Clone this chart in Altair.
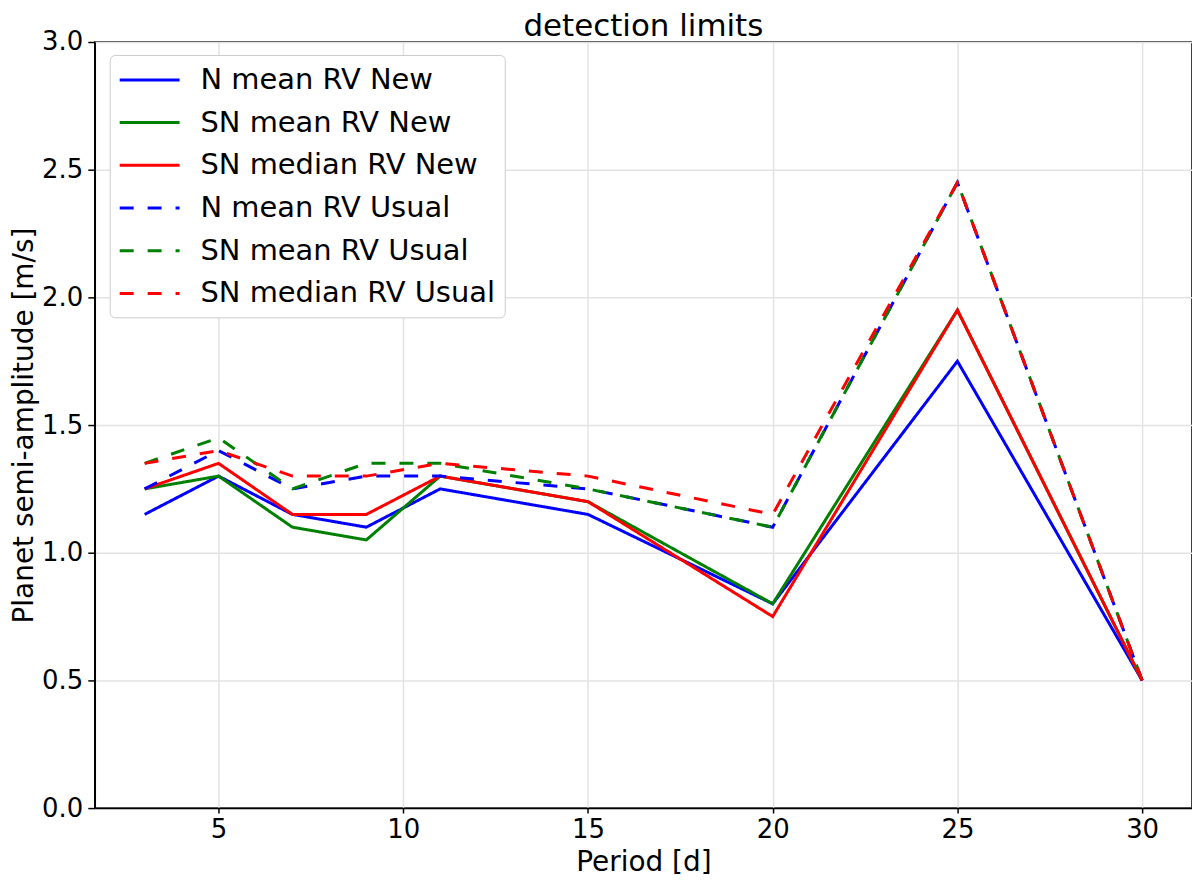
import altair as alt
import pandas as pd

period = [3, 5, 7, 9, 11, 15, 20, 25, 30]

n_mean_new = [1.15, 1.30, 1.15, 1.10, 1.25, 1.15, 0.80, 1.75, 0.50]
sn_mean_new = [1.25, 1.30, 1.10, 1.05, 1.30, 1.20, 0.80, 1.95, 0.50]
sn_median_new = [1.25, 1.35, 1.15, 1.15, 1.30, 1.20, 0.75, 1.95, 0.50]
n_mean_usual = [1.25, 1.40, 1.25, 1.30, 1.30, 1.25, 1.10, 2.45, 0.50]
sn_mean_usual = [1.35, 1.45, 1.25, 1.35, 1.35, 1.25, 1.10, 2.45, 0.50]
sn_median_usual = [1.35, 1.40, 1.30, 1.30, 1.35, 1.30, 1.15, 2.45, 0.50]

series_names = ['N mean RV New', 'SN mean RV New', 'SN median RV New',
                'N mean RV Usual', 'SN mean RV Usual', 'SN median RV Usual']
series_values = [n_mean_new, sn_mean_new, sn_median_new,
                 n_mean_usual, sn_mean_usual, sn_median_usual]
series_colors = ['#0000ff', '#008000', '#ff0000', '#0000ff', '#008000', '#ff0000']
series_dashes = [[1, 0], [1, 0], [1, 0], [14, 14], [14, 14], [14, 14]]

rows = []
for name, vals in zip(series_names, series_values):
    for p, v in zip(period, vals):
        rows.append({'series': name, 'period': p, 'K': v})
df = pd.DataFrame(rows)

FONT = 'DejaVu Sans'

# legend handle: a flat line, wider than the symbol box so rows stay tight
handle = 'M-2.07,0L2.07,0'

lines = alt.Chart(df).mark_line(strokeWidth=3).encode(
    alt.X('period:Q', scale=alt.Scale(domain=[1.65, 31.35], nice=False, zero=False),
          axis=alt.Axis(title='Period [d]', values=[5, 10, 15, 20, 25, 30],
                        labelBaseline='alphabetic', labelPadding=25, tickSize=5,
                        titleX=550, titleY=63, titleBaseline='alphabetic')),
    alt.Y('K:Q', scale=alt.Scale(domain=[0, 3], nice=False),
          axis=alt.Axis(title='Planet semi-amplitude [m/s]',
                        values=[0, 0.5, 1.0, 1.5, 2.0, 2.5, 3.0], format='.1f',
                        tickSize=7, labelPadding=5,
                        titleX=-70, titleY=384, titleAngle=-90,
                        titleBaseline='middle', titleAlign='center')),
    color=alt.Color('series:N', sort=series_names,
                    scale=alt.Scale(domain=series_names, range=series_colors),
                    legend=alt.Legend(title=None, orient='none', legendX=15, legendY=13,
                                      symbolType=handle, symbolSize=841,
                                      symbolStrokeWidth=3, symbolOffset=15,
                                      rowPadding=11.8,
                                      labelFontSize=29, labelFont=FONT, labelLimit=0,
                                      labelColor='black', labelOffset=35, padding=9,
                                      fillColor='white', strokeColor='#cccccc',
                                      cornerRadius=5)),
    strokeDash=alt.StrokeDash('series:N', sort=series_names,
                              scale=alt.Scale(domain=series_names, range=series_dashes)),
    order='period:Q'
)

chart = lines.properties(
    width=1100, height=768,
    title=alt.TitleParams('detection limits', fontSize=31, font=FONT,
                          fontWeight='normal', color='black', offset=4, dy=18),
    autosize=alt.AutoSizeParams(type='none'),
    padding={'left': 87, 'top': 33, 'right': 0, 'bottom': 70}
).configure_axis(
    labelFont=FONT, titleFont=FONT, labelFontSize=26, titleFontSize=28,
    labelColor='black', titleColor='black', titleFontWeight='normal',
    domainColor='black', domainWidth=1.5, tickColor='black', tickWidth=1.5,
    gridColor='#e3e3e3', gridWidth=1.5
).configure_view(
    stroke='black', strokeWidth=1.5
)

chart.save('out.html', embed_options={'renderer': 'svg', 'actions': False})
